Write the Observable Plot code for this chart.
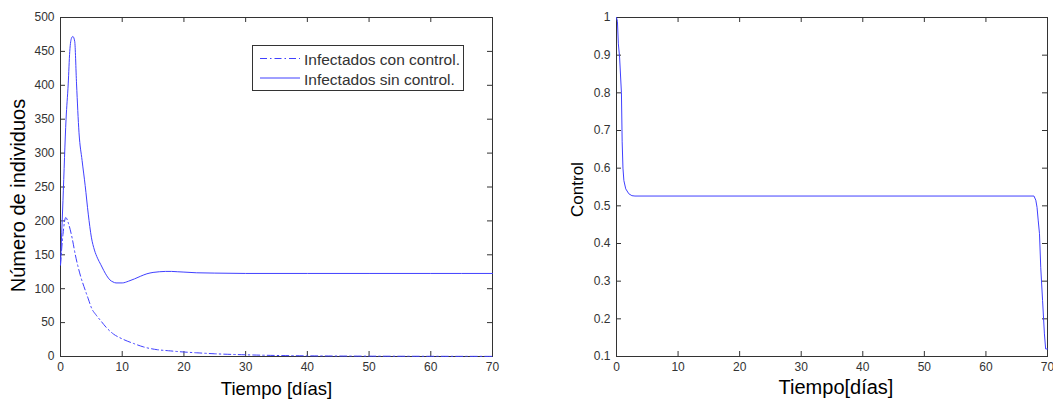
<!DOCTYPE html>
<html><head><meta charset="utf-8">
<script src="https://cdn.jsdelivr.net/npm/d3@7"></script>
<script src="https://cdn.jsdelivr.net/npm/@observablehq/plot@0.6"></script>
<style>
html,body{margin:0;padding:0;background:#fff;}
#wrap{position:relative;width:1053px;height:399px;overflow:hidden;font-family:"Liberation Sans",Arial,sans-serif;}
.panel{position:absolute;top:0;}
</style></head><body><div id="wrap"></div>
<script>
// ---- data ----
const timeSolid = [0,0.4,0.9,1.25,1.5,1.8,2.0,2.3,2.6,3.0,3.5,4.0,4.5,5.0,5.5,6.0,6.5,7.0,7.5,8.0,8.5,9.0,10,11,12,13,14,15,16,17,18,19,20,22,25,30,40,50,60,70];
const infSinControl = [135,230,350,402,450,470,472,465,402,330,289,252,210,176,157,145,136,127,119,113,110,108.5,108.5,111,114.5,118.5,122,124,125,125.5,125.5,125,124.5,123.5,123,122.5,122.5,122.5,122.5,122.5];
const timeDash = [0,0.4,0.85,1.3,1.9,2.4,2.8,3.3,4.0,4.5,5.1,5.7,6.5,7.5,8.6,10,11.9,13.5,15.7,17.5,19.4,22,25,30,35,40,50,60,70];
const infConControl = [135,180,205,196,174,150,134,117,98,85,70,62,53,42,33,26,19,14,10,8.5,7,5.5,4,2.5,1.5,1,0.5,0.3,0.2];
const timeCtrl = [0,0.15,0.3,0.5,0.8,0.92,1.05,1.2,1.5,2.0,2.5,3.0,67.8,68.1,68.3,68.5,68.7,68.9,69.2,69.5,69.7,70];
const controlValues = [1,0.99,0.93,0.895,0.8,0.67,0.6,0.567,0.545,0.532,0.527,0.526,0.526,0.515,0.496,0.46,0.426,0.337,0.249,0.16,0.12,0.12];

const xTicks = [0,10,20,30,40,50,60,70];
const yTicksLeft = [0,50,100,150,200,250,300,350,400,450,500];
const yTicksRight = [0.1,0.2,0.3,0.4,0.5,0.6,0.7,0.8,0.9,1];
const yTickLabelsRight = ["0.1","0.2","0.3","0.4","0.5","0.6","0.7","0.8","0.9","1"];
const legendLabels = ["Infectados con control.","Infectados sin control."];
const xLabelLeft = "Tiempo [días]";
const yLabelLeft = "Número de individuos";
const xLabelRight = "Tiempo[días]";
const yLabelRight = "Control";

const lineColor = "#4040ff";
const axisColor = "#333";
const TICK = 5;

function boxMarks(xt, yt, innerW, innerH, yFmt) {
  return [
    Plot.frame({stroke: axisColor, strokeWidth: 1}),
    Plot.tickX(xt, {x: d => d, stroke: axisColor, insetTop: innerH - TICK}),
    Plot.tickX(xt, {x: d => d, stroke: axisColor, insetBottom: innerH - TICK}),
    Plot.tickY(yt, {y: d => d, stroke: axisColor, insetRight: innerW - TICK}),
    Plot.tickY(yt, {y: d => d, stroke: axisColor, insetLeft: innerW - TICK}),
    Plot.axisX(xt, {tickSize: 0, tickPadding: 6, fontSize: 12, fill: axisColor, label: null}),
    Plot.axisY(yt, {tickSize: 0, tickPadding: 6, fontSize: 12, fill: axisColor, label: null, tickFormat: yFmt})
  ];
}

const solidData = timeSolid.map((t, i) => ({t, v: infSinControl[i]}));
const dashData = timeDash.map((t, i) => ({t, v: infConControl[i]}));
const ctrlData = timeCtrl.map((t, i) => ({t, v: controlValues[i]}));

// ---- left panel ----
const W1 = 520, ML1 = 60, MR1 = 28, MT = 17, MB = 43, H = 399;
const left = Plot.plot({
  width: W1, height: H, marginLeft: ML1, marginRight: MR1, marginTop: MT, marginBottom: MB,
  style: {fontFamily: "Liberation Sans, Arial, sans-serif", background: "transparent", overflow: "visible"},
  x: {domain: [0, 70]},
  y: {domain: [0, 500]},
  marks: [
    ...boxMarks(xTicks, yTicksLeft, W1 - ML1 - MR1, H - MT - MB, d => String(d)),
    Plot.line(dashData, {x: "t", y: "v", stroke: lineColor, strokeWidth: 1, strokeDasharray: "7,3,1.5,3", curve: "monotone-x"}),
    Plot.line(solidData, {x: "t", y: "v", stroke: lineColor, strokeWidth: 1, curve: "monotone-x"}),
    Plot.text([xLabelLeft], {text: d => d, frameAnchor: "bottom", lineAnchor: "bottom", dy: 38, fontSize: 18.5, fill: "black"}),
    Plot.text([yLabelLeft], {text: d => d, frameAnchor: "left", rotate: -90, lineAnchor: "bottom", textAnchor: "middle", dx: -36, dy: 8.5, fontSize: 20, fill: "black"})
  ]
});

// ---- right panel ----
const W2 = 523, ML2 = 86, MR2 = 6;
const right = Plot.plot({
  width: W2, height: H, marginLeft: ML2, marginRight: MR2, marginTop: MT, marginBottom: MB,
  style: {fontFamily: "Liberation Sans, Arial, sans-serif", background: "transparent", overflow: "visible"},
  x: {domain: [0, 70]},
  y: {domain: [0.1, 1]},
  marks: [
    ...boxMarks(xTicks, yTicksRight, W2 - ML2 - MR2, H - MT - MB, (d, i) => yTickLabelsRight[i]),
    Plot.line(ctrlData, {x: "t", y: "v", stroke: lineColor, strokeWidth: 1}),
    Plot.text([xLabelRight], {text: d => d, frameAnchor: "bottom", lineAnchor: "bottom", dx: 4, dy: 37, fontSize: 20, fill: "black"}),
    Plot.text([yLabelRight], {text: d => d, frameAnchor: "left", rotate: -90, lineAnchor: "bottom", textAnchor: "middle", dx: -34, dy: 2.5, fontSize: 17, fill: "black"})
  ]
});

const wrap = document.getElementById("wrap");
const p1 = document.createElement("div"); p1.className = "panel"; p1.style.left = "0px"; p1.appendChild(left);
const p2 = document.createElement("div"); p2.className = "panel"; p2.style.left = "530px"; p2.appendChild(right);
wrap.appendChild(p1); wrap.appendChild(p2);

// ---- legend (inside left panel) ----
const lg = d3.select(p1).append("svg")
  .attr("width", 213).attr("height", 47)
  .style("position", "absolute").style("left", "252px").style("top", "45px");
lg.append("rect").attr("x", 0.5).attr("y", 0.5).attr("width", 211).attr("height", 45)
  .attr("fill", "white").attr("stroke", axisColor);
const dashes = ["7,3,1.5,3", null];
legendLabels.forEach((lab, i) => {
  const yy = 13.5 + i * 19.5;
  lg.append("line").attr("x1", 8).attr("x2", 48).attr("y1", yy).attr("y2", yy)
    .attr("stroke", lineColor).attr("stroke-width", 1).attr("stroke-dasharray", dashes[i]);
  lg.append("text").attr("x", 52).attr("y", yy + 6.5).text(lab)
    .attr("font-size", 15.5).attr("fill", axisColor).attr("font-family", "Liberation Sans, Arial, sans-serif");
});
</script></body></html>
